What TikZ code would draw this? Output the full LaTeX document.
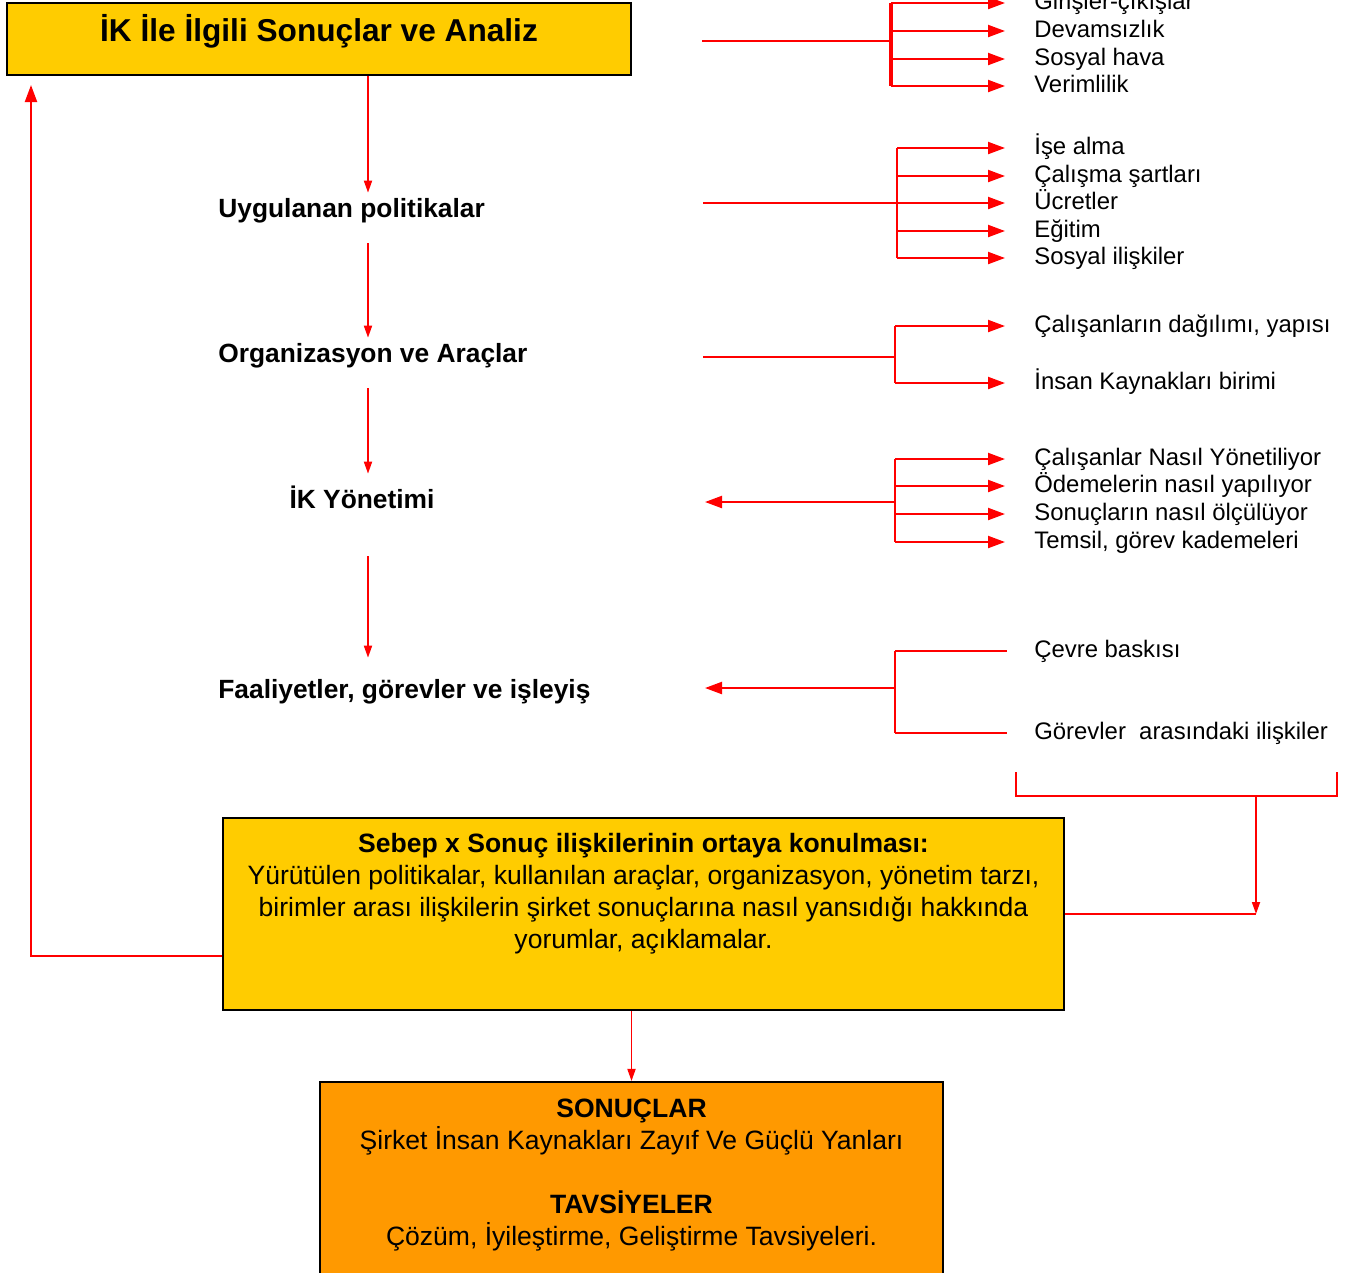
\documentclass[tikz,border=0pt]{standalone}
\usepackage{fontspec}
\setmainfont{Liberation Sans}
\usepackage{xcolor}
\usepackage{tikz}
\usetikzlibrary{positioning,arrows.meta,calc}
\definecolor{kutusari}{HTML}{FFCC00}
\definecolor{kututuruncu}{HTML}{FF9900}
\definecolor{okkirmizi}{HTML}{FF0000}

\begin{document}
\begin{tikzpicture}[
  x=0.02cm, y=-0.02cm,
  box/.style={rectangle, draw=black, line width=1.2pt, align=center, inner sep=0pt},
  baslik/.style={font=\fontsize{15}{18}\selectfont\bfseries, inner sep=0pt, minimum height=0.72cm},
  madde/.style={font=\fontsize{13.6}{16}\selectfont, anchor=west, inner sep=0pt,
                text height=10pt, text depth=3pt},
  kutuyazi/.style={font=\fontsize{15.1}{18.2}\selectfont, align=center, anchor=north, inner sep=0pt},
  hat/.style={draw=okkirmizi, line width=1.2pt},
  ok/.style={hat, -{Triangle[length=0.34cm, width=0.24cm]}},
  dikok/.style={draw=okkirmizi, line width=1pt, -{Triangle[length=0.24cm, width=0.16cm]}},
  dal/.style={ok, shorten >=0.58cm},
  duzdal/.style={hat, shorten >=0.54cm}
]
\useasboundingbox (0,0) rectangle (1348,1272);
\clip (0,0) rectangle (1348,1272);

% Boxes
\node[box, fill=kutusari, minimum width=12.48cm, minimum height=1.44cm,
      font=\fontsize{18}{21}\selectfont\bfseries, text height=13pt, text depth=10pt]
      (analiz) at (319,39) {İK İle İlgili Sonuçlar ve Analiz};
\node[box, fill=kutusari, minimum width=16.82cm, minimum height=3.84cm] (sebep) at (643.5,914) {};
\node[kutuyazi] (sebepyazi) at ($(sebep.north)+(0,16)$)
  {\textbf{Sebep x Sonuç ilişkilerinin ortaya konulması:}\\
   Yürütülen politikalar, kullanılan araçlar, organizasyon, yönetim tarzı,\\
   birimler arası ilişkilerin şirket sonuçlarına nasıl yansıdığı hakkında\\
   yorumlar, açıklamalar.};
\node[box, fill=kututuruncu, minimum width=12.46cm, minimum height=4.6cm] (sonuc) at (631.5,1197) {};
\node[kutuyazi] (sonucyazi) at ($(sonuc.north)+(0,18)$)
  {\textbf{SONUÇLAR}\\
   Şirket İnsan Kaynakları Zayıf Ve Güçlü Yanları\\[18.2pt]
   \textbf{TAVSİYELER}\\
   Çözüm, İyileştirme, Geliştirme Tavsiyeleri.};

% Steps
\node[baslik, anchor=west] (pol) at (218,211) {Uygulanan politikalar};
\node[baslik, anchor=west] (org) at (218,356) {Organizasyon ve Araçlar};
\node[baslik] (ikyon) at (362,497) {İK Yönetimi};
\node[baslik, anchor=west] (faal) at (218,692) {Faaliyetler, görevler ve işleyiş};

% Spine arrows
\coordinate (omurga) at (368,0);
\draw[dikok] (analiz.south -| omurga) -- (pol.north -| omurga);
\draw[dikok, shorten <=0.28cm] (pol.south -| omurga) -- (org.north -| omurga);
\draw[dikok, shorten <=0.28cm, shorten >=0.1cm] (org.south -| omurga) -- (ikyon.north -| omurga);
\draw[dikok, shorten <=0.82cm, shorten >=0.32cm] (ikyon.south -| omurga) -- (faal.north -| omurga);
\draw[dikok] (sebep.south -| sonuc.north) -- (sonuc.north);

% Feedback
\coordinate (geri) at (31,85);
\draw[ok] ($(sebep.west)+(0,42)$) -| (geri);

% Group 1
\coordinate (b1) at (702,41);
\coordinate (c1) at (891,41);
\node[madde] (g1a) at (1034,3) {Girişler-çıkışlar};
\node[madde] (g1b) at (1034,31) {Devamsızlık};
\node[madde] (g1c) at (1034,59) {Sosyal hava};
\node[madde] (g1d) at (1034,86) {Verimlilik};
\draw[hat] (b1) -- (c1);
\draw[hat, line width=2pt] (g1a.west -| c1) -- (g1d.west -| c1);
\foreach \m in {g1a,g1b,g1c,g1d} \draw[dal] (\m.west -| c1) -- (\m.west);

% Group 2
\coordinate (b2) at (703,203);
\coordinate (c2) at (897,203);
\node[madde] (g2a) at (1034,148) {İşe alma};
\node[madde] (g2b) at (1034,176) {Çalışma şartları};
\node[madde] (g2c) at (1034,203) {Ücretler};
\node[madde] (g2d) at (1034,231) {Eğitim};
\node[madde] (g2e) at (1034,258) {Sosyal ilişkiler};
\draw[hat] (b2) -- (c2);
\draw[hat] (g2a.west -| c2) -- (g2e.west -| c2);
\foreach \m in {g2a,g2b,g2c,g2d,g2e} \draw[dal] (\m.west -| c2) -- (\m.west);

% Group 3
\coordinate (b3) at (703,357);
\coordinate (c3) at (895,357);
\node[madde] (g3a) at (1034,326) {Çalışanların dağılımı, yapısı};
\node[madde] (g3b) at (1034,383) {İnsan Kaynakları birimi};
\draw[hat] (b3) -- (c3);
\draw[hat] (g3a.west -| c3) -- (g3b.west -| c3);
\foreach \m in {g3a,g3b} \draw[dal] (\m.west -| c3) -- (\m.west);

% Group 4
\coordinate (t4) at (705,502);
\coordinate (c4) at (895,502);
\node[madde] (g4a) at (1034,459) {Çalışanlar Nasıl Yönetiliyor};
\node[madde] (g4b) at (1034,486) {Ödemelerin nasıl yapılıyor};
\node[madde] (g4c) at (1034,514) {Sonuçların nasıl ölçülüyor};
\node[madde] (g4d) at (1034,542) {Temsil, görev kademeleri};
\draw[ok] (c4) -- (t4);
\draw[hat] (g4a.west -| c4) -- (g4d.west -| c4);
\foreach \m in {g4a,g4b,g4c,g4d} \draw[dal] (\m.west -| c4) -- (\m.west);

% Group 5
\coordinate (t5) at (705,688);
\coordinate (c5) at (895,688);
\node[madde] (g5a) at (1034,651) {Çevre baskısı};
\node[madde] (g5b) at (1034,733) {Görevler\ \ arasındaki ilişkiler};
\draw[ok] (c5) -- (t5);
\draw[hat] (g5a.west -| c5) -- (g5b.west -| c5);
\foreach \m in {g5a,g5b} \draw[duzdal] (\m.west -| c5) -- (\m.west);

% Bracket
\coordinate (k1) at (1016,772);
\coordinate (k2) at (1337,772);
\coordinate (korta) at (1256,796);
\coordinate (birles) at (1256,914);
\draw[hat] (k1) -- ++(0,24) -| (k2);
\draw[dikok] (korta) -- (birles);
\draw[hat] (sebep.east) -- (birles);
\end{tikzpicture}
\end{document}
